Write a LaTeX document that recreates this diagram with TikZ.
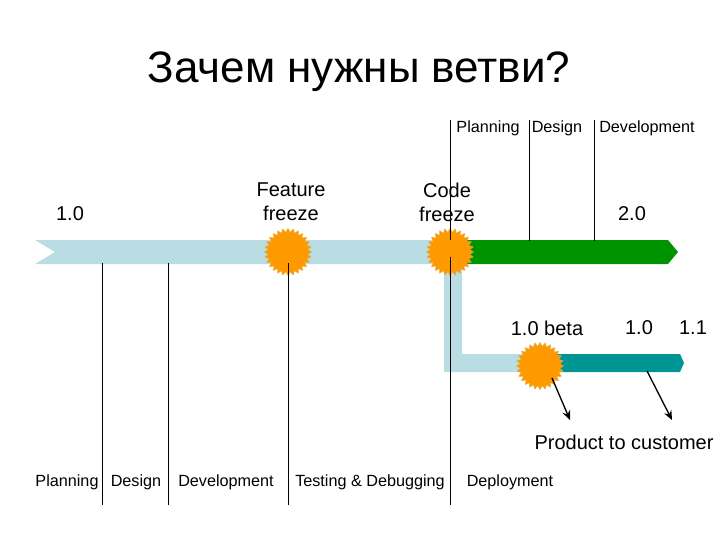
\documentclass[tikz,border=0pt]{standalone}
\usepackage{fontspec}
\setmainfont{Liberation Sans}
\usetikzlibrary{shapes.geometric,arrows.meta}
\definecolor{paleblue}{HTML}{B9DDE2}
\definecolor{deepgreen}{HTML}{009300}
\definecolor{tealbar}{HTML}{009595}
\definecolor{sunorange}{HTML}{FF9900}
\definecolor{sunedge}{HTML}{E8A93C}
\tikzset{
  x=0.75pt,y=-0.75pt,
  lbl/.style={inner sep=0pt,align=center,font=\fontsize{15}{18}\selectfont},
  small/.style={inner sep=0pt,font=\fontsize{12.15}{14}\selectfont},
  sun/.style={star,star points=28,star point ratio=1.2,minimum size=35.5pt,inner sep=0pt,fill=sunorange,draw=sunedge,line width=0.3pt},
  tick/.style={draw=black,line width=0.75pt},
  arr/.style={draw=black,line width=1pt,-{Stealth[length=7pt,width=6pt]}}
}
\begin{document}
\begin{tikzpicture}
\useasboundingbox (0,0) rectangle (720,540);
\fill[white] (0,0) rectangle (720,540);
% bars
\fill[paleblue] (35,240) -- (450,240) -- (450,264) -- (35,264) -- (55,252) -- cycle;
\fill[deepgreen] (450,240) -- (668,240) -- (678,252) -- (668,264) -- (450,264) -- cycle;
\fill[paleblue] (444,260) -- (462,260) -- (462,354) -- (545,354) -- (545,372) -- (444,372) -- cycle;
\fill[tealbar] (540,354) -- (680,354) -- (684,363) -- (680,372) -- (540,372) -- cycle;
% suns
\node[sun] (s1) at (288,252) {};
\node[sun] (s2) at (450,252) {};
\node[sun] (s3) at (540,366) {};
% title
\node[inner sep=0pt,font=\fontsize{33}{38}\selectfont] (title) at (359,72) {Зачем нужны ветви?};
% labels
\node[lbl] (v10) at (70,214) {1.0};
\node[lbl] (ff) at (291,202) {Feature\\freeze};
\node[lbl] (cf) at (447,202) {Code\\freeze};
\node[lbl] (v20) at (632,214) {2.0};
\node[lbl] (beta) at (547,328) {1.0 beta};
\node[lbl] (r10) at (639,328) {1.0};
\node[lbl] (r11) at (693,328) {1.1};
\node[lbl] (ptc) at (624,442) {Product to customer};
\node[small] (tp) at (488,128) {Planning};
\node[small] (td) at (557,128) {Design};
\node[small] (tdv) at (647,128) {Development};
\node[small] (bp) at (67,482) {Planning};
\node[small] (bd) at (136,482) {Design};
\node[small] (bdv) at (226,482) {Development};
\node[small] (bt) at (370,482) {Testing \& Debugging};
\node[small] (bdp) at (510,482) {Deployment};
% ticks
\coordinate (a1) at (102,263); \coordinate (a2) at (102,505);
\coordinate (b1) at (168,263); \coordinate (b2) at (168,505);
\coordinate (c1) at (288,263); \coordinate (c2) at (288,505);
\coordinate (d1) at (450,257); \coordinate (d2) at (450,505);
\coordinate (e1) at (450,120); \coordinate (e2) at (450,240);
\coordinate (f1) at (529,120); \coordinate (f2) at (529,241);
\coordinate (g1) at (594,120); \coordinate (g2) at (594,241);
\draw[tick] (a1) -- (a2);
\draw[tick] (b1) -- (b2);
\draw[tick] (c1) -- (c2);
\draw[tick] (d1) -- (d2);
\draw[tick] (e1) -- (e2);
\draw[tick] (f1) -- (f2);
\draw[tick] (g1) -- (g2);
% arrows
\coordinate (h1) at (552,378); \coordinate (h2) at (570,420);
\coordinate (i1) at (647,371); \coordinate (i2) at (672,420);
\draw[arr] (h1) -- (h2);
\draw[arr] (i1) -- (i2);
\end{tikzpicture}
\end{document}
